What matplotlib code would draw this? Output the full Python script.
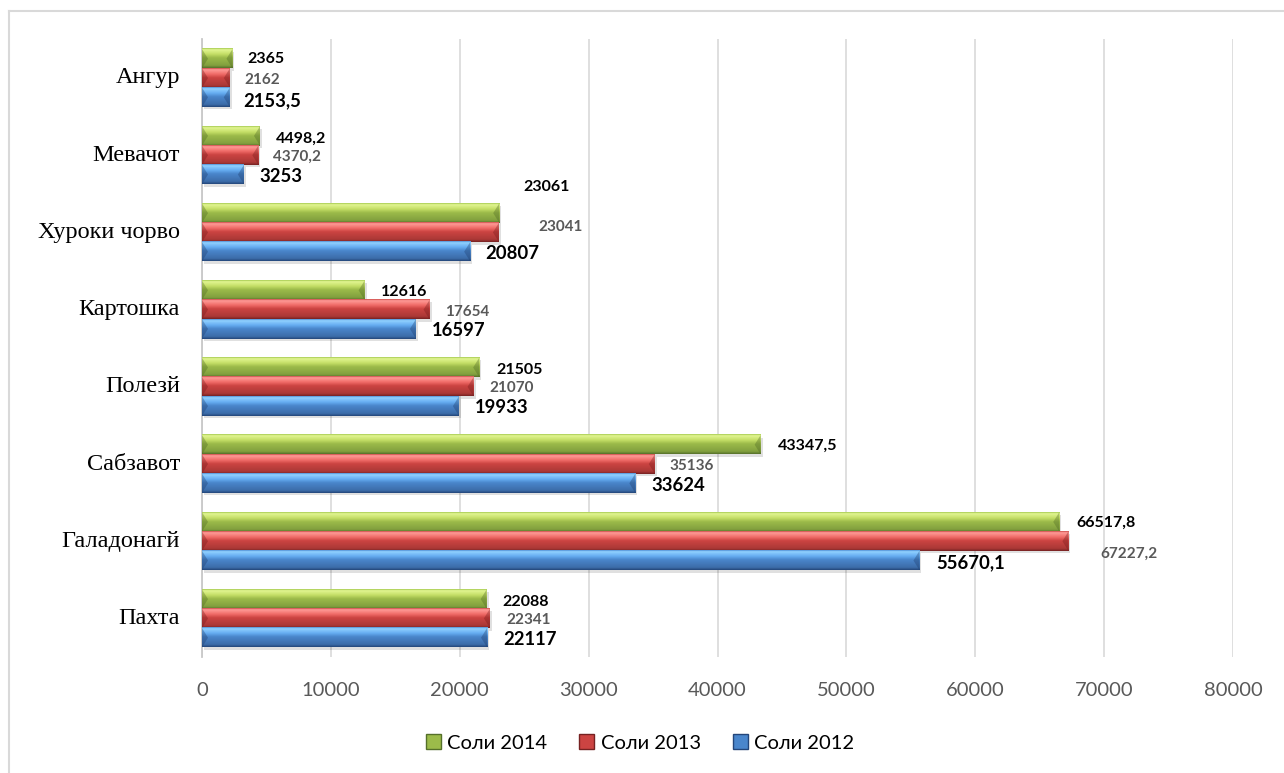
import numpy as np
import matplotlib
matplotlib.use("Agg")
import matplotlib.pyplot as plt
from matplotlib.colors import LinearSegmentedColormap
from matplotlib.patches import Patch, Polygon, Rectangle
from matplotlib.lines import Line2D
from matplotlib.transforms import blended_transform_factory, offset_copy
from matplotlib import font_manager

plt.rcParams['font.family'] = ['Lato', 'DejaVu Sans']
plt.rcParams['font.serif'] = ['Liberation Serif', 'Times New Roman', 'DejaVu Serif']

# data (top to bottom as in the chart)
categories = ['Ангур', 'Мевачот', 'Хуроки чорво', 'Картошка', 'Полезй',
              'Сабзавот', 'Галадонагй', 'Пахта']
y2012 = [2153.5, 3253, 20807, 16597, 19933, 33624, 55670.1, 22117]
y2013 = [2162, 4370.2, 23041, 17654, 21070, 35136, 67227.2, 22341]
y2014 = [2365, 4498.2, 23061, 12616, 21505, 43347.5, 66517.8, 22088]
series_names = ['Соли 2014', 'Соли 2013', 'Соли 2012']
xticks = list(range(0, 80001, 10000))

# label offsets in pixels (dx right, dy down) - data labels were moved by hand in the original
off14 = [(15, 0), (16, 3), (24, -26), (16, 2), (17, 2.5), (17, 1.5), (17, 1), (16, 2.5)]
off13 = [(15, 2), (15, 2), (39, -5), (16, 2), (16, 1.5), (15, 2), (32, 13), (16, 2)]
off12 = [(13, 3), (15, 2), (15, 1.5), (16, 2), (16, 1.5), (16, 2), (17, 2.5), (16, 2)]

green = LinearSegmentedColormap.from_list('g', [
    (0, '#a4c850'), (0.07, '#e2f692'), (0.3, '#c4de66'), (0.48, '#9cbb4a'),
    (0.88, '#819f3e'), (1, '#55702a')])
red = LinearSegmentedColormap.from_list('r', [
    (0, '#cc4a48'), (0.07, '#ff9c98'), (0.3, '#f06c68'), (0.48, '#cc4442'),
    (0.88, '#aa3836'), (1, '#762222')])
blue = LinearSegmentedColormap.from_list('b', [
    (0, '#4f8ed4'), (0.07, '#92d2ff'), (0.3, '#66adf2'), (0.48, '#4a86cc'),
    (0.88, '#3c6ca8'), (1, '#24467a')])

fig = plt.figure(figsize=(12.84, 7.73), dpi=100)
ax = fig.add_axes([202/1284, 1-657/773, 1031/1284, 617.6/773])

n = len(categories)
ypos = np.arange(n)[::-1]
h = 0.25
px_x = 80000/1031.0
px_y = n/617.6


def bevel_bar(w, yc, cmap, dark):
    top, bot = yc + h/2, yc - h/2
    # soft shadow
    ax.add_patch(Rectangle((2*px_x, bot - 2.5*px_y), w, h, facecolor='#000000',
                           alpha=0.12, lw=0, zorder=2))
    grad = np.linspace(0, 1, 80).reshape(-1, 1)
    ax.imshow(grad, cmap=cmap, aspect='auto', extent=(0, w, bot, top),
              origin='upper', interpolation='bilinear', zorder=3)
    d = min(6*px_x, w/3)
    ax.add_patch(Polygon([(0, top), (d, yc), (0, bot)], closed=True,
                         facecolor=dark, alpha=0.35, lw=0, zorder=4))
    ax.add_patch(Polygon([(w, top), (w - d, yc), (w, bot)], closed=True,
                         facecolor=dark, alpha=0.35, lw=0, zorder=4))


def fmt(v):
    return ('%g' % v).replace('.', ',')


for vals, shift, cmap, dark, offs, fs, col in [
        (y2014, h, green, '#4a6420', off14, 11.5, 'black'),
        (y2013, 0, red, '#701818', off13, 11, '#595959'),
        (y2012, -h, blue, '#1c3a68', off12, 13.3, 'black')]:
    for i, v in enumerate(vals):
        yc = ypos[i] + shift
        bevel_bar(v, yc, cmap, dark)
        dx, dy = offs[i]
        ax.annotate(fmt(v), xy=(v, yc), xytext=(dx, -dy), textcoords='offset pixels',
                    ha='left', va='center', fontsize=fs, fontweight='bold', color=col,
                    zorder=6)

ax.set_xlim(0, 80000)
ax.set_ylim(-0.5, n - 0.5)
ax.set_xticks(xticks)
ax.set_xticklabels([str(t) for t in xticks])
ax.set_yticks([])
ax.grid(axis='x', color='#d9d9d9', lw=1.2, zorder=0)
ax.set_axisbelow(True)
for s in ['top', 'right', 'bottom']:
    ax.spines[s].set_visible(False)
ax.spines['left'].set_color('#c8c8c8')
ax.spines['left'].set_linewidth(1.3)
ax.tick_params(axis='both', length=0)
ax.tick_params(axis='x', labelsize=14.5, labelcolor='#595959', pad=18)

# category labels in a serif face
serif_path = font_manager.findfont(font_manager.FontProperties(family='serif'))
serif_fp = font_manager.FontProperties(fname=serif_path, size=17.5)
trans = offset_copy(blended_transform_factory(ax.transAxes, ax.transData),
                    fig=fig, x=-22, y=0, units='dots')
for yv, name in zip(ypos, categories):
    ax.text(0, yv, name, transform=trans, ha='right', va='center',
            fontproperties=serif_fp, color='black')

# outer chart border (only top and left visible)
fig.add_artist(Line2D([9/1284, 1], [1-11/773, 1-11/773], transform=fig.transFigure,
                      color='#d9d9d9', lw=1.5))
fig.add_artist(Line2D([9/1284, 9/1284], [0, 1-11/773], transform=fig.transFigure,
                      color='#d9d9d9', lw=1.5))

handles = [Patch(facecolor='#9cbb4a', edgecolor='#55702a'),
           Patch(facecolor='#cc4442', edgecolor='#762222'),
           Patch(facecolor='#4a86cc', edgecolor='#24467a')]
fig.legend(handles, series_names, loc='center', bbox_to_anchor=(640/1284, 1-743/773),
           ncol=3, frameon=False, fontsize=14.5, handlelength=0.75, handleheight=0.75,
           handletextpad=0.3, columnspacing=1.6)

fig.savefig('out.png', dpi=100)
